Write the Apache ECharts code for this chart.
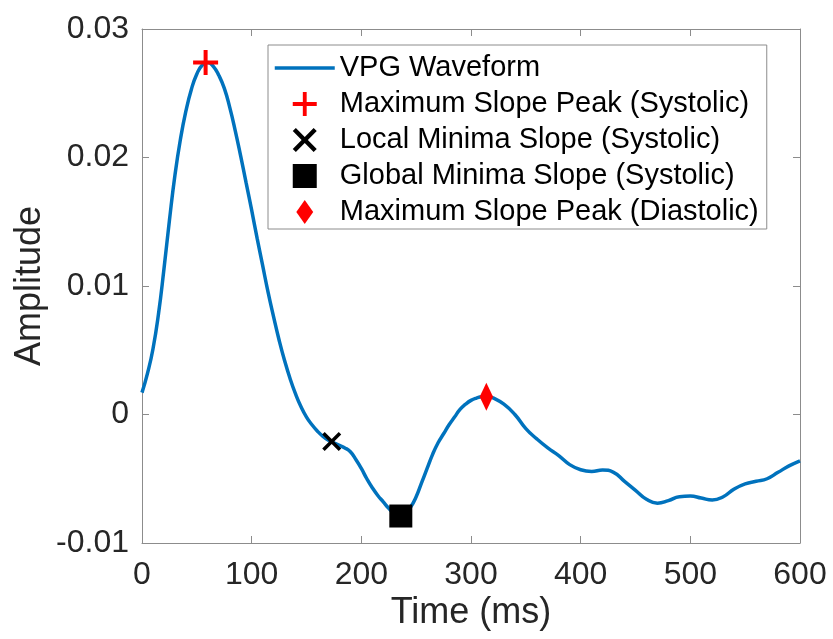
<!DOCTYPE html>
<html>
<head>
<meta charset="utf-8">
<script src="https://cdn.jsdelivr.net/npm/echarts@6/dist/echarts.min.js"></script>
<style>
html,body{margin:0;padding:0;background:#fff;}
#chart{width:833px;height:639px;}
</style>
</head>
<body>
<div id="chart"></div>
<script>
// Waveform samples (time in ms, amplitude)
const timeMs = [0,5,10,15,20,25,30,35,40,45,50,55,60,65,70,75,80,85,90,95,100,105,110,115,120,125,130,135,140,145,150,155,160,165,170,175,180,185,190,195,200,205,210,215,220,225,230,235,240,245,250,255,260,265,270,275,280,285,290,295,300,305,310,315,320,330,340,350,360,370,380,390,400,410,420,430,440,450,460,470,480,490,500,510,520,530,540,550,560,570,580,590,600];
const amplitude = [0.0017,0.0032,0.0051,0.0078,0.0113,0.0151,0.0186,0.0214,0.0236,0.0253,0.0265,0.0272,0.0274,0.0271,0.0264,0.0254,0.0239,0.0221,0.0201,0.0180,0.0159,0.0137,0.0116,0.0095,0.0076,0.0058,0.0042,0.0028,0.0016,0.0006,-0.0002,-0.0008,-0.0013,-0.0017,-0.0020,-0.0022,-0.0024,-0.0026,-0.0029,-0.0035,-0.0042,-0.0050,-0.0057,-0.0063,-0.0068,-0.0073,-0.0077,-0.0079,-0.0077,-0.0072,-0.0064,-0.0053,-0.0042,-0.0031,-0.0022,-0.0015,-0.0008,-0.0002,0.0004,0.0008,0.0011,0.00128,0.00138,0.0014,0.0013,0.0008,0.0000,-0.0011,-0.0019,-0.0026,-0.0032,-0.0039,-0.0043,-0.00443,-0.00432,-0.0045,-0.0052,-0.0059,-0.0066,-0.0069,-0.0067,-0.0064,-0.00635,-0.0065,-0.00665,-0.0064,-0.0058,-0.0054,-0.0052,-0.0050,-0.0045,-0.0040,-0.0036];

const seriesNames = ['VPG Waveform','Maximum Slope Peak (Systolic)','Local Minima Slope (Systolic)','Global Minima Slope (Systolic)','Maximum Slope Peak (Diastolic)'];
const sysPeak = [58, 0.0274];
const localMin = [173, -0.0021];
const globalMin = [236, -0.0079];
const diaPeak = [314, 0.00139];

const xTicks = [0,100,200,300,400,500,600];
const yTicks = [-0.01,0,0.01,0.02,0.03];

const plusPath = 'path://M-0.08,-0.5 L0.08,-0.5 L0.08,-0.08 L0.5,-0.08 L0.5,0.08 L0.08,0.08 L0.08,0.5 L-0.08,0.5 L-0.08,0.08 L-0.5,0.08 L-0.5,-0.08 L-0.08,-0.08 Z';
const a = 0.13;
const crossPath = 'path://M-0.5,' + (-0.5 + a) + ' L' + (-0.5 + a) + ',-0.5 L0,' + (-a) + ' L' + (0.5 - a) + ',-0.5 L0.5,' + (-0.5 + a) + ' L' + a + ',0 L0.5,' + (0.5 - a) + ' L' + (0.5 - a) + ',0.5 L0,' + a + ' L' + (-0.5 + a) + ',0.5 L-0.5,' + (0.5 - a) + ' L' + (-a) + ',0 Z';
const diamondPath = 'path://M0,-13.5 L9.5,0 L0,13.5 L-9.5,0 Z';
const squarePath = 'path://M0,0 L1,0 L1,1 L0,1 Z';

const FONT = 'Liberation Sans, Arial, Helvetica, sans-serif';
const TXT = '#262626';
const AX = '#8c8c8c';

const chart = echarts.init(document.getElementById('chart'), null, {renderer: 'canvas'});

const axisCommon = {
  axisLine: {show: true, onZero: false, lineStyle: {color: AX, width: 1}},
  axisTick: {show: true, inside: true, length: 7, lineStyle: {color: AX, width: 1}},
  splitLine: {show: false}
};

chart.setOption({
  animation: false,
  backgroundColor: '#ffffff',
  grid: {left: 142, right: 33, top: 29, bottom: 96, show: false},
  legend: {
    left: 268, top: 45,
    orient: 'vertical',
    backgroundColor: '#ffffff',
    borderColor: '#8c8c8c', borderWidth: 1,
    padding: [8, 8, 2, 5],
    itemWidth: 60, itemHeight: 24, itemGap: 6, itemTextGap: 7,
    textStyle: {fontFamily: FONT, fontSize: 29, color: '#000', lineHeight: 30},
    data: [
      {name: seriesNames[0], itemStyle: {opacity: 0}, lineStyle: {width: 3.5, color: '#0072BD'}},
      {name: seriesNames[1]},
      {name: seriesNames[2]},
      {name: seriesNames[3]},
      {name: seriesNames[4]}
    ]
  },
  xAxis: [
    Object.assign({
      type: 'value', min: 0, max: 600, interval: 100, position: 'bottom',
      name: 'Time (ms)', nameLocation: 'middle', nameGap: 52, nameMoveOverlap: false,
      nameTextStyle: {fontFamily: FONT, fontSize: 36, color: TXT},
      axisLabel: {fontFamily: FONT, fontSize: 32, color: TXT, margin: 16,
        formatter: function (v) { return xTicks.indexOf(v) >= 0 ? String(v) : ''; }}
    }, axisCommon),
    Object.assign({
      type: 'value', min: 0, max: 600, interval: 100, position: 'top', gridIndex: 0,
      axisLabel: {show: false}
    }, axisCommon)
  ],
  yAxis: [
    Object.assign({
      type: 'value', min: -0.01, max: 0.03, interval: 0.01, position: 'left',
      name: 'Amplitude', nameLocation: 'middle', nameGap: 94, nameMoveOverlap: false,
      nameTextStyle: {fontFamily: FONT, fontSize: 36, color: TXT},
      axisLabel: {fontFamily: FONT, fontSize: 32, color: TXT, margin: 13,
        formatter: function (v) {
          const r = Math.round(v * 100) / 100;
          const idx = yTicks.findIndex(t => Math.abs(t - r) < 1e-9);
          return idx >= 0 ? (r === 0 ? '0' : String(r)) : '';
        }}
    }, axisCommon),
    Object.assign({
      type: 'value', min: -0.01, max: 0.03, interval: 0.01, position: 'right',
      axisLabel: {show: false}
    }, axisCommon)
  ],
  series: [
    {
      name: seriesNames[0], type: 'line', xAxisIndex: 0, yAxisIndex: 0,
      data: timeMs.map((t, i) => [t, amplitude[i]]),
      smooth: 0.5, showSymbol: false, symbol: 'circle',
      lineStyle: {color: '#0072BD', width: 3.5},
      itemStyle: {color: '#0072BD'},
      z: 2
    },
    {
      name: seriesNames[1], type: 'scatter', data: [sysPeak],
      symbol: plusPath, symbolSize: 25, symbolKeepAspect: true,
      itemStyle: {color: '#ff0000', opacity: 1}, z: 5
    },
    {
      name: seriesNames[2], type: 'scatter', data: [localMin],
      symbol: crossPath, symbolSize: 19, symbolKeepAspect: true,
      itemStyle: {color: '#000000', opacity: 1}, z: 5
    },
    {
      name: seriesNames[3], type: 'scatter', data: [globalMin],
      symbol: squarePath, symbolSize: 23, symbolKeepAspect: true,
      itemStyle: {color: '#000000', opacity: 1}, z: 5
    },
    {
      name: seriesNames[4], type: 'scatter', data: [diaPeak],
      symbol: diamondPath, symbolSize: [19, 28], symbolKeepAspect: true,
      itemStyle: {color: '#ff0000', opacity: 1}, z: 5
    }
  ]
});
</script>
</body>
</html>
